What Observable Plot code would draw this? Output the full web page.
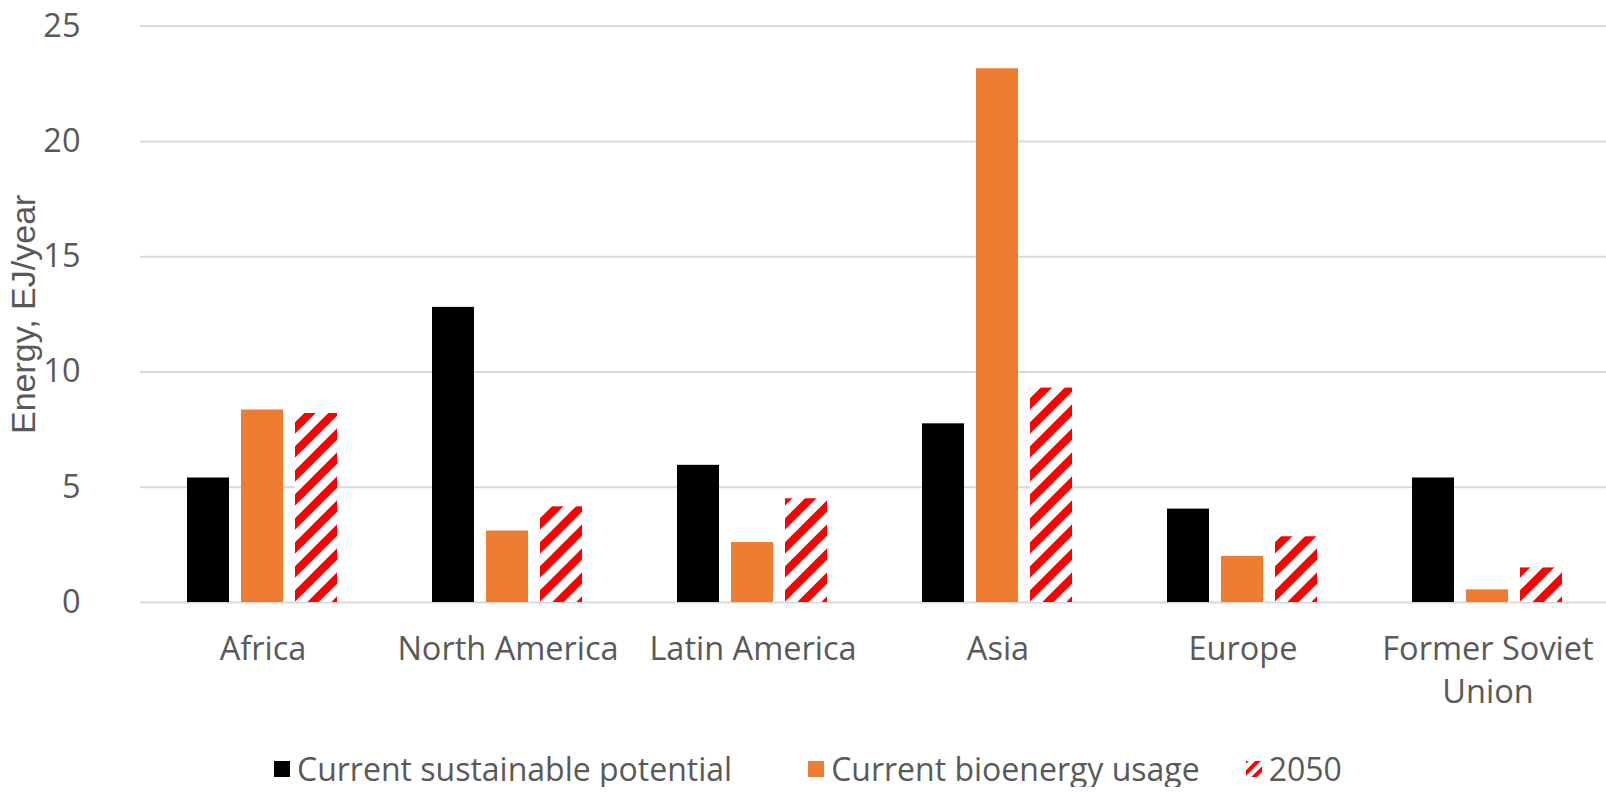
<!DOCTYPE html>
<html>
<head>
<meta charset="utf-8">
<script src="https://cdn.jsdelivr.net/npm/d3@7"></script>
<script src="https://cdn.jsdelivr.net/npm/@observablehq/plot@0.6"></script>
<style>
  html, body { margin: 0; padding: 0; background: #fff; overflow: hidden; }
  #legend { display: flex; align-items: center; height: 36px; margin-top: 11px; margin-left: 274px;
            font-family: 'Open Sans', sans-serif; font-size: 32px; line-height: 1; color: #595959; white-space: nowrap; }
  .item { display: flex; align-items: center; }
  .sw { width: 16px; height: 16px; margin-right: 7px; display: block; }
</style>
</head>
<body>
<div id="chart"></div>
<div id="legend"></div>
<script>
const regions = ["Africa", "North America", "Latin America", "Asia", "Europe", "Former Soviet Union"];
const regionLabels = ["Africa", "North America", "Latin America", "Asia", "Europe", "Former Soviet\nUnion"];
const seriesNames = ["Current sustainable potential", "Current bioenergy usage", "2050"];
const potential = [5.4, 12.8, 5.95, 7.75, 4.05, 5.4];
const usage = [8.35, 3.1, 2.6, 23.15, 2.0, 0.55];
const future2050 = [8.2, 4.15, 4.5, 9.3, 2.85, 1.5];
const yTicks = [0, 5, 10, 15, 20, 25];
const seriesColors = ["#000000", "#ED7D31", "url(#hatch2050)"];

const seriesValues = [potential, usage, future2050];
const data = regions.flatMap((r, i) => seriesNames.map((s, j) => ({region: r, series: s, value: seriesValues[j][i]})));

const chart = Plot.plot({
  width: 1606,
  height: 740,
  marginLeft: 137,
  marginRight: -6,
  marginTop: 25.6,
  marginBottom: 138,
  style: {fontFamily: "'Open Sans', sans-serif", fontSize: "32px", color: "#595959", background: "white"},
  fx: {domain: regions, padding: 0, label: null},
  x: {domain: seriesNames, paddingInner: 0.22, paddingOuter: 0.857, axis: null},
  y: {domain: [0, 25]},
  color: {domain: seriesNames, range: seriesColors},
  marks: [
    Plot.gridY(yTicks, {stroke: "#d9d9d9", strokeOpacity: 1, strokeWidth: 2}),
    Plot.barY(data, {fx: "region", x: "series", y: "value", fill: "series"}),
    Plot.axisY(yTicks, {tickSize: 0, tickPadding: 60, label: null, fontSize: 32.5}),
    Plot.axisY([], {tickSize: 0, label: "Energy, EJ/year", labelAnchor: "center",
      labelOffset: 130, labelArrow: "none", fontSize: 34, fontFamily: "'Liberation Sans', sans-serif"}),
    Plot.axisFx({anchor: "bottom", tickSize: 0, tickPadding: 27, label: null, lineHeight: 1.32, fontSize: 32.5,
      tickFormat: d => regionLabels[regions.indexOf(d)]})
  ]
});

const svg = chart.tagName.toLowerCase() === "svg" ? chart : chart.querySelector("svg");
const NS = "http://www.w3.org/2000/svg";
function makePattern(id) {
  const pat = document.createElementNS(NS, "pattern");
  pat.setAttribute("id", id);
  pat.setAttribute("patternUnits", "userSpaceOnUse");
  pat.setAttribute("width", "24");
  pat.setAttribute("height", "24");
  const rect = document.createElementNS(NS, "rect");
  rect.setAttribute("width", "24"); rect.setAttribute("height", "24"); rect.setAttribute("fill", "#fff");
  const path = document.createElementNS(NS, "path");
  path.setAttribute("d", "M-6,6 L6,-6 M0,24 L24,0 M18,30 L30,18");
  path.setAttribute("stroke", "#ff0000");
  path.setAttribute("stroke-width", "8");
  pat.appendChild(rect); pat.appendChild(path);
  return pat;
}
const defs = document.createElementNS(NS, "defs");
defs.appendChild(makePattern("hatch2050"));
svg.insertBefore(defs, svg.firstChild);
document.getElementById("chart").appendChild(chart);

// legend
const legend = document.getElementById("legend");
const gaps = [76, 46, 0];
seriesNames.forEach((s, j) => {
  const item = document.createElement("div");
  item.className = "item";
  item.style.marginRight = gaps[j] + "px";
  const sw = document.createElementNS(NS, "svg");
  sw.setAttribute("class", "sw");
  sw.setAttribute("width", "16"); sw.setAttribute("height", "16");
  if (j === 2) {
    const d2 = document.createElementNS(NS, "defs");
    const p = document.createElementNS(NS, "pattern");
    p.setAttribute("id", "hatchLegend"); p.setAttribute("patternUnits", "userSpaceOnUse");
    p.setAttribute("width", "12"); p.setAttribute("height", "12");
    const pp = document.createElementNS(NS, "path");
    pp.setAttribute("d", "M-3,3 L3,-3 M0,12 L12,0 M9,15 L15,9");
    pp.setAttribute("stroke", "#ff0000"); pp.setAttribute("stroke-width", "4");
    p.appendChild(pp); d2.appendChild(p); sw.appendChild(d2);
  }
  const r = document.createElementNS(NS, "rect");
  r.setAttribute("width", "16"); r.setAttribute("height", "16");
  r.setAttribute("fill", j === 2 ? "url(#hatchLegend)" : seriesColors[j]);
  sw.appendChild(r);
  const t = document.createElement("span");
  t.textContent = s;
  item.appendChild(sw); item.appendChild(t);
  legend.appendChild(item);
});
</script>
</body>
</html>
